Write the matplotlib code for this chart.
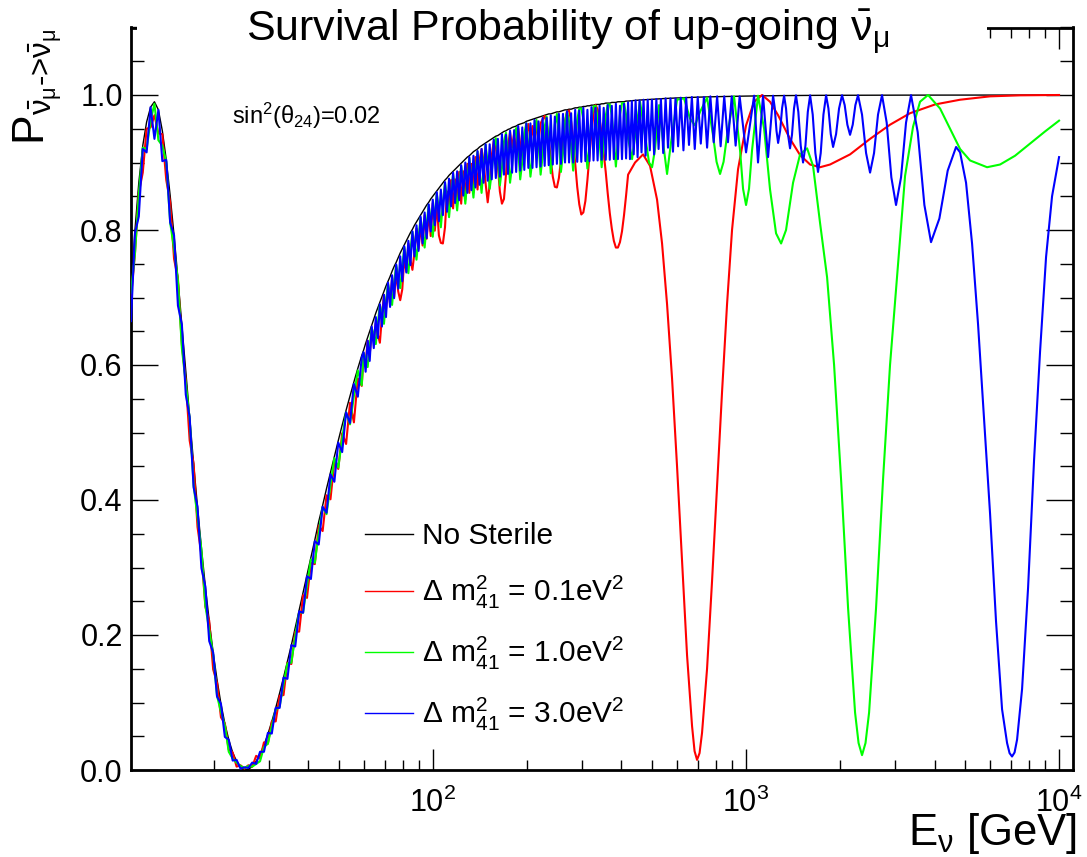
import matplotlib.pyplot as plt
from matplotlib.patches import Rectangle
from matplotlib.ticker import MultipleLocator, LogLocator, FixedLocator, NullFormatter

plt.rcParams['font.family'] = ['Liberation Sans', 'DejaVu Sans']
plt.rcParams['mathtext.fontset'] = 'custom'
plt.rcParams['mathtext.rm'] = 'Liberation Sans'
plt.rcParams['mathtext.it'] = 'Liberation Sans'
plt.rcParams['mathtext.sf'] = 'Liberation Sans'
plt.rcParams['mathtext.bf'] = 'Liberation Sans:bold'

# ---- energies [GeV], low part (around the atmospheric dip)
e_low = [10.84, 11.16, 11.48, 11.82, 12.16, 12.52, 12.88, 13.26, 13.65, 14.05,
         14.46, 14.88, 15.31, 15.76, 16.22, 16.69, 17.18, 17.68, 18.20, 18.73,
         19.27, 19.84, 20.41, 21.01, 21.62, 22.25, 22.90, 23.57, 24.26, 24.97,
         25.70, 26.45, 27.22, 28.01, 28.83, 29.67, 30.54, 31.43, 32.35, 33.29,
         34.26, 35.26, 36.29, 37.35, 38.44, 39.56, 40.72, 41.91, 43.13, 44.39,
         45.68, 47.02, 48.39, 49.80, 51.25, 52.75, 54.29, 55.87, 57.50, 59.18]
black_low = [0.71, 0.80, 0.87, 0.925, 0.96, 0.982, 0.99, 0.978, 0.947, 0.904,
             0.851, 0.792, 0.728, 0.660, 0.591, 0.523, 0.454, 0.390, 0.329, 0.272,
             0.221, 0.174, 0.134, 0.098, 0.069, 0.045, 0.026, 0.013, 0.004, 0.0,
             0.001, 0.005, 0.013, 0.023, 0.037, 0.053, 0.072, 0.092, 0.114, 0.137,
             0.161, 0.185, 0.211, 0.237, 0.263, 0.289, 0.315, 0.341, 0.368, 0.392,
             0.417, 0.441, 0.465, 0.488, 0.511, 0.533, 0.554, 0.575, 0.595, 0.614]
# deviations of the sterile curves from "No Sterile", in units of 1e-3
red_low = [-10, -35, -15, -40, -10, -30, -20, -35, -5, -30,
           -10, -35, 0, -30, -15, -35, 0, -30, -10, -30,
           0, -25, -5, -20, 0, -15, 0, -8, 3, 2,
           6, 0, 8, -6, 4, -14, 0, -20, -4, -26,
           -2, -28, -6, -32, -4, -34, -8, -36, -6, -38,
           -10, -40, -8, -42, -12, -50, -10, -60, -15, -45]
green_low = [-3, -35, -18, -3, -40, -20, -3, -45, -22, -3,
             -40, -20, -3, -35, -18, -3, -32, -16, -3, -28,
             -14, -3, -24, -12, -3, -18, -9, -2, 2, 3,
             5, 0, -4, -10, -3, -14, -7, -3, -20, -10,
             -3, -26, -13, -3, -30, -15, -3, -34, -17, -3,
             -38, -19, -3, -40, -20, -3, -42, -21, -3, -44]
blue_low = [-45, -5, -50, -5, -45, 0, -55, 0, -45, 0,
            -40, 0, -40, 0, -35, 0, -35, 0, -30, 0,
            -30, 0, -25, 0, -20, 0, -12, 2, -2, 4,
            2, 6, -4, 4, -10, 2, -18, 0, -22, 0,
            -26, 0, -28, -2, -30, -2, -32, -2, -34, -2,
            -36, -3, -38, -3, -40, -3, -40, -3, -42, -3]

# ---- middle part, where the fast sterile wiggles show up
e_mid = [60.00, 60.90, 61.82, 62.75, 63.70, 64.66, 65.64, 66.63, 67.63, 68.65,
         69.69, 70.74, 71.81, 72.89, 73.99, 75.10, 76.24, 77.39, 78.55, 79.74,
         80.94, 82.16, 83.40, 84.66, 85.93, 87.23, 88.54, 89.88, 91.23, 92.61,
         94.00, 95.42, 96.86, 98.32, 99.80, 101.3, 102.8, 104.4, 105.9, 107.5,
         109.2, 110.8, 112.5, 114.2, 115.9, 117.6, 119.4, 121.2, 123.0, 124.9,
         126.8, 128.7, 130.6, 132.6, 134.6, 136.6, 138.7, 140.8, 142.9, 145.0,
         147.2, 149.5, 151.7, 154.0, 156.3, 158.7, 161.1, 163.5, 166.0, 168.5,
         171.0, 173.6, 176.2, 178.9, 181.6, 184.3, 187.1, 189.9, 192.8, 195.7,
         198.6, 201.6, 204.7, 207.8, 210.9, 214.1, 217.3, 220.6, 223.9, 227.3,
         230.7, 234.2, 237.7, 241.3, 245.0, 248.7, 252.4, 256.2, 260.1, 264.0,
         268.0, 272.0, 276.1, 280.3, 284.5, 288.8, 293.2, 297.6, 302.1, 306.7,
         311.3, 316.0, 320.7, 325.6, 330.5, 335.5, 340.5, 345.7, 350.9, 356.2,
         361.5, 367.0, 372.5, 378.1, 383.8, 389.6, 395.5, 401.5, 407.5, 413.7,
         419.9]
black_mid = [0.622, 0.632, 0.641, 0.650, 0.659, 0.668, 0.677, 0.685, 0.693, 0.701,
             0.709, 0.717, 0.724, 0.731, 0.739, 0.746, 0.752, 0.759, 0.766, 0.772,
             0.778, 0.784, 0.790, 0.796, 0.801, 0.807, 0.812, 0.817, 0.822, 0.827,
             0.832, 0.837, 0.841, 0.846, 0.850, 0.854, 0.858, 0.862, 0.866, 0.870,
             0.874, 0.877, 0.881, 0.884, 0.887, 0.890, 0.893, 0.896, 0.899, 0.902,
             0.905, 0.908, 0.910, 0.913, 0.916, 0.918, 0.920, 0.923, 0.925, 0.927,
             0.929, 0.931, 0.933, 0.935, 0.937, 0.939, 0.940, 0.942, 0.944, 0.946,
             0.947, 0.949, 0.950, 0.952, 0.953, 0.954, 0.956, 0.957, 0.958, 0.959,
             0.961, 0.962, 0.963, 0.964, 0.965, 0.966, 0.967, 0.968, 0.969, 0.970,
             0.971, 0.972, 0.972, 0.973, 0.974, 0.975, 0.975, 0.976, 0.977, 0.978,
             0.978, 0.979, 0.979, 0.980, 0.981, 0.981, 0.982, 0.982, 0.983, 0.983,
             0.984, 0.984, 0.985, 0.985, 0.986, 0.986, 0.986, 0.987, 0.987, 0.988,
             0.988, 0.988, 0.989, 0.989, 0.989, 0.990, 0.990, 0.990, 0.990, 0.991,
             0.991]
red_mid = [-10, -30, -5, -35, -10, -30, -15, -40, -60, -30,
           -5, -35, -10, -40, -10, -45, -15, -50, -70, -60,
           -20, -45, -10, -40, -60, -40, -10, -45, -15, -50,
           -10, -50, -15, -55, -10, -55, -20, -70, -85, -90,
           -70, -20, -50, -10, -55, -15, -55, -10, -60, -15,
           -60, -10, -55, -15, -60, -10, -60, -20, -5, -25,
           -60, -90, -65, -25, -5, -15, -45, -85, -105, -100,
           -65, -25, -5, -30, -10, -40, -5, -30, -40, -45,
           -20, -5, -30, -10, -40, -5, -35, -10, -5, -1,
           -13, -38, -67, -94, -110, -112, -98, -73, -43, -17,
           -2, -2, -18, -46, -82, -117, -144, -159, -157, -140,
           -110, -74, -40, -13, -1, -7, -22, -44, -72, -102,
           -134, -163, -187, -205, -215, -216, -208, -192, -168, -140,
           -109]
green_mid = [-4, -22, -44, -22, -4, -23, -46, -23, -4, -24,
             -48, -24, -4, -25, -50, -25, -4, -26, -52, -26,
             -4, -27, -54, -27, -4, -28, -56, -28, -4, -29,
             -58, -29, -4, -30, -60, -30, -4, -31, -62, -31,
             -4, -31, -62, -31, -4, -32, -64, -32, -4, -33,
             -66, -33, -4, -34, -68, -34, -4, -35, -70, -35,
             -3, -32, -72, -50, -14, -3, -34, -76, -53, -15,
             -3, -36, -80, -56, -16, -3, -37, -82, -57, -16,
             -3, -38, -84, -59, -17, -3, -39, -86, -60, -17,
             -3, -40, -88, -62, -18, -3, -40, -90, -63, -18,
             -2, -18, -55, -92, -55, -18, -2, -2, -19, -56,
             -93, -56, -19, -2, -2, -19, -56, -94, -56, -19,
             -2, -2, -19, -57, -95, -57, -19, -2, -2, -20,
             -55]
blue_mid = [-3, -42, -5, -44, -2, -43, -6, -45, -3, -44,
            -5, -46, -2, -45, -6, -47, -3, -46, -5, -48,
            -2, -47, -6, -48, -3, -46, -5, -48, -2, -47,
            -6, -49, -3, -48, -5, -47, -2, -49, -6, -48,
            -3, -50, -5, -49, -2, -50, -6, -52, -3, -51,
            -5, -53, -2, -54, -6, -55, -3, -56, -5, -57,
            -2, -58, -6, -60, -3, -62, -5, -63, -2, -64,
            -6, -66, -3, -67, -5, -68, -2, -69, -6, -70,
            -3, -70, -5, -72, -2, -73, -6, -74, -3, -75,
            -5, -76, -2, -76, -6, -77, -3, -78, -5, -78,
            -2, -79, -6, -80, -3, -80, -5, -81, -2, -81,
            -6, -82, -3, -82, -5, -83, -2, -83, -6, -84,
            -3, -84, -5, -84, -2, -85, -6, -85, -3, -85,
            -2]

# ---- high-energy part, read point by point
e_black_hi = [430, 460, 500, 550, 600, 700, 800, 1000, 1300, 1700, 2300, 3200, 4500, 7000, 10000]
p_black_hi = [0.9915, 0.9926, 0.9937, 0.9948, 0.9956, 0.9968, 0.9975, 0.9984, 0.9991, 0.9995,
              0.9997, 0.9998, 0.9999, 1.0, 1.0]

e_red_hi = [442.0, 468.8, 493.5, 519.6, 539.1, 559.3, 580.2, 601.9, 624.5, 647.9,
            672.2, 684.7, 697.4, 710.3, 723.4, 750.6, 778.7, 807.8, 838.1, 869.5,
            902.0, 942.8, 1000, 1061, 1125, 1193, 1266, 1382, 1488, 1602,
            1724, 1855, 2149, 2490, 2884, 3341, 4016, 4828, 6019, 7506,
            10000]
p_red_hi = [0.900, 0.912, 0.895, 0.845, 0.78, 0.69, 0.58, 0.45, 0.31, 0.17,
            0.065, 0.028, 0.015, 0.025, 0.055, 0.15, 0.28, 0.42, 0.56, 0.69,
            0.80, 0.89, 0.955, 0.99, 1.0, 0.99, 0.97, 0.935, 0.911, 0.897,
            0.893, 0.897, 0.912, 0.935, 0.956, 0.973, 0.986, 0.993, 0.998, 0.9995,
            1.0]

e_green_hi = [432.3, 445.2, 458.5, 475.7, 489.9, 500.9, 512.0, 527.3, 543.0, 559.3,
              575.9, 601.9, 633.7, 662.3, 687.2, 712.9, 750.6, 784.5, 805.0, 825.9,
              847.6, 869.5, 915.5, 956.8, 978.2, 1000, 1022, 1045, 1092, 1142,
              1193, 1247, 1294, 1342, 1413, 1488, 1567, 1637, 1724, 1815,
              1911, 2012, 2118, 2230, 2288, 2347, 2408, 2472, 2602, 2739,
              2884, 3036, 3221, 3416, 3596, 3815, 4167, 4485, 4828, 5196,
              5889, 6479, 7234, 8078, 9021, 10000]
p_green_hi = [0.905, 0.95, 0.99, 0.94, 0.90, 0.893, 0.92, 0.985, 0.93, 0.883,
              0.93, 0.993, 0.995, 0.965, 0.955, 0.975, 0.996, 0.94, 0.901, 0.883,
              0.901, 0.94, 0.998, 0.918, 0.861, 0.837, 0.861, 0.918, 0.999, 0.95,
              0.86, 0.795, 0.78, 0.80, 0.87, 0.912, 0.921, 0.895, 0.81, 0.73,
              0.60, 0.43, 0.24, 0.085, 0.04, 0.022, 0.04, 0.085, 0.24, 0.43,
              0.60, 0.73, 0.88, 0.953, 0.99, 1.0, 0.98, 0.95, 0.92, 0.903,
              0.893, 0.897, 0.91, 0.928, 0.946, 0.962]

e_blue_hi = [425.7, 431.6, 437.6, 443.8, 450.2, 456.7, 463.5, 470.4, 477.6, 485.0,
             492.6, 500.4, 508.5, 516.9, 525.5, 534.5, 543.7, 553.3, 563.2, 573.5,
             584.1, 595.1, 606.6, 618.5, 630.9, 643.8, 657.2, 671.2, 685.7, 700.9,
             716.8, 733.4, 750.8, 769.1, 788.2, 808.3, 829.5, 851.7, 875.2, 900.0,
             926.2, 953.9, 1000, 1061, 1076, 1092, 1112, 1133, 1154, 1176,
             1198, 1220, 1235, 1251, 1266, 1285, 1304, 1323, 1342, 1362,
             1382, 1402, 1423, 1444, 1469, 1495, 1521, 1548, 1575, 1602,
             1633, 1665, 1698, 1732, 1767, 1802, 1833, 1865, 1897, 1939,
             1982, 2026, 2066, 2107, 2149, 2192, 2235, 2279, 2347, 2418,
             2490, 2564, 2640, 2719, 2814, 2912, 3014, 3127, 3244, 3366,
             3535, 3713, 3899, 4146, 4408, 4688, 4828, 5045, 5273, 5511,
             5759, 6019, 6290, 6575, 6822, 6948, 7076, 7209, 7343, 7618,
             7962, 8322, 8696, 9088, 9498, 10000]
p_blue_hi = [0.905, 0.991, 0.912, 0.992, 0.908, 0.992, 0.915, 0.993, 0.91, 0.993,
             0.918, 0.993, 0.912, 0.994, 0.92, 0.994, 0.914, 0.995, 0.922, 0.995,
             0.916, 0.995, 0.924, 0.996, 0.918, 0.996, 0.926, 0.997, 0.92, 0.997,
             0.928, 0.997, 0.922, 0.998, 0.93, 0.998, 0.924, 0.998, 0.93, 0.998,
             0.925, 0.998, 0.915, 0.999, 0.95, 0.900, 0.95, 0.999, 0.953, 0.908,
             0.953, 0.999, 0.981, 0.947, 0.929, 0.947, 0.981, 0.999, 0.980, 0.941,
             0.921, 0.941, 0.980, 0.9995, 0.975, 0.925, 0.900, 0.925, 0.975, 0.9995,
             0.971, 0.914, 0.886, 0.914, 0.971, 0.9995, 0.980, 0.942, 0.923, 0.942,
             0.980, 0.9997, 0.985, 0.956, 0.941, 0.956, 0.985, 0.9997, 0.971, 0.914,
             0.885, 0.914, 0.971, 0.9998, 0.959, 0.878, 0.837, 0.878, 0.959, 0.9998,
             0.945, 0.837, 0.782, 0.817, 0.888, 0.923, 0.915, 0.87, 0.78, 0.66,
             0.52, 0.38, 0.22, 0.09, 0.04, 0.025, 0.02, 0.026, 0.045, 0.12,
             0.27, 0.46, 0.62, 0.76, 0.85, 0.908]

labels = ['No Sterile',
          r'$\Delta$ m$^{2}_{41}$ = 0.1eV$^{2}$',
          r'$\Delta$ m$^{2}_{41}$ = 1.0eV$^{2}$',
          r'$\Delta$ m$^{2}_{41}$ = 3.0eV$^{2}$']


def sterile(dev_low, dev_mid, e_hi, p_hi):
    e = e_low + e_mid + e_hi
    p = [b + d / 1000 for b, d in zip(black_low, dev_low)]
    p += [b + d / 1000 for b, d in zip(black_mid, dev_mid)]
    p += p_hi
    return e, p


W, H = 1087, 857
fig = plt.figure(figsize=(W / 100, H / 100), dpi=100)
ax = fig.add_axes([131 / W, 1 - 770 / H, (1073 - 131) / W, (770 - 27.5) / H])

ax.plot(e_low + e_mid + e_black_hi, black_low + black_mid + p_black_hi,
        color='black', lw=1.0, zorder=2)
curves = [(red_low, red_mid, e_red_hi, p_red_hi, '#ff0000'),
          (green_low, green_mid, e_green_hi, p_green_hi, '#00ff00'),
          (blue_low, blue_mid, e_blue_hi, p_blue_hi, '#0000ff')]
handles = [plt.Line2D([], [], color='black', lw=1.0)]
for k, (dl, dm, eh, ph, c) in enumerate(curves):
    e, p = sterile(dl, dm, eh, ph)
    ax.plot(e, p, color=c, lw=1.5, zorder=3 + k)
    handles.append(plt.Line2D([], [], color=c, lw=1.0))

ax.set_xscale('log')
ax.set_xlim(10.84, 11080)
ax.set_ylim(0, 1.1)

ax.xaxis.set_major_locator(FixedLocator([100, 1000, 10000]))
ax.set_xticklabels([r'$10^{2}$', r'$10^{3}$', r'$10^{4}$'])
ax.xaxis.set_minor_locator(LogLocator(base=10, subs=[2, 3, 4, 5, 6, 7, 8, 9]))
ax.xaxis.set_minor_formatter(NullFormatter())
ax.yaxis.set_minor_locator(MultipleLocator(0.05))
ax.set_yticks([0.0, 0.2, 0.4, 0.6, 0.8, 1.0])
ax.set_yticklabels(['0.0', '0.2', '0.4', '0.6', '0.8', '1.0'])

ax.tick_params(which='both', direction='in', top=True, right=True, width=1.0, labelsize=22)
ax.tick_params(axis='y', which='major', length=19.5, pad=6)
ax.tick_params(axis='y', which='minor', length=9.5)
ax.tick_params(axis='x', which='major', length=15, pad=13)
ax.tick_params(axis='x', which='minor', length=7.5)
for s in ax.spines.values():
    s.set_linewidth(2.0)

# white title box hides the top frame, as in the original
fig.patches.append(Rectangle((137 / W, 1 - 50 / H), (987 - 137) / W, 50 / H,
                             transform=fig.transFigure, facecolor='white',
                             edgecolor='none', zorder=5))
fig.text(568 / W, 1 - 41 / H, r'Survival Probability of up-going $\bar{\nu}_{\mu}$',
         ha='center', va='baseline', fontsize=31, zorder=6)

fig.text(12 / W, 1 - 28 / H, r'$\text{P}_{\bar{\nu}_{\mu}\text{->}\bar{\nu}_{\mu}}$',
         rotation=90, ha='left', va='top', fontsize=32)
fig.text(1077 / W, 1 - 845 / H, r'E$_{\nu}$ [GeV]', ha='right', va='baseline', fontsize=31.5)
fig.text(232 / W, 1 - 124 / H, r'sin$^{2}$($\theta_{24}$)=0.02',
         ha='left', va='baseline', fontsize=17)

ax.legend(handles, labels, loc='upper left', bbox_to_anchor=(365 / W, 1 - 522 / H),
          bbox_transform=fig.transFigure, frameon=False, fontsize=21.5,
          handlelength=1.6, handletextpad=0.3, labelspacing=0.8,
          borderpad=0, borderaxespad=0)

fig.savefig('out.png', dpi=100)
